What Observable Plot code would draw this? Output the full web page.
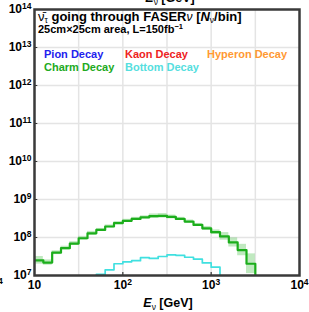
<!DOCTYPE html>
<html><head><meta charset="utf-8">
<script src="https://cdn.jsdelivr.net/npm/d3@7"></script>
<script src="https://cdn.jsdelivr.net/npm/@observablehq/plot@0.6"></script>
<style>body{margin:0;background:#fff;overflow:hidden;} svg{display:block;}</style>
</head><body><div id="chart"></div>
<script>
// Energy bin edges (GeV), 10 bins per decade
const binEdges = [10, 12.59, 15.85, 19.95, 25.12, 31.62, 39.81, 50.12, 63.10, 79.43,
  100, 125.9, 158.5, 199.5, 251.2, 316.2, 398.1, 501.2, 631.0, 794.3,
  1000, 1259, 1585, 1995, 2512, 3162];
// Charm decay: one value per bin starting at 10 GeV
const charmValues = [2.51e7, 2.19e7, 3.98e7, 5.25e7, 6.92e7, 9.55e7, 1.29e8, 1.58e8, 1.95e8, 2.40e8,
  2.75e8, 3.09e8, 3.39e8, 3.63e8, 3.72e8, 3.47e8, 3.09e8, 2.63e8, 2.14e8, 1.74e8,
  1.38e8, 1.07e8, 7.41e7, 4.68e7, 2.04e7];
// Charm uncertainty band half-width (decades)
const charmErrDex = [0.10, 0.07, 0.05, 0.05, 0.05, 0.05, 0.05, 0.04, 0.04, 0.04,
  0.04, 0.04, 0.04, 0.06, 0.06, 0.05, 0.04, 0.04, 0.04, 0.05,
  0.06, 0.10, 0.12, 0.15, 0.26];
// Bottom decay: first bin index and values
const bottomFirstBin = 7;
const bottomValues = [1.07e7, 1.41e7, 2.04e7, 2.29e7, 2.45e7, 2.95e7, 2.82e7, 3.16e7, 3.47e7, 3.39e7,
  3.02e7, 2.69e7, 2.14e7, 1.66e7];

const xDomain = [10, 1e4];
const yDomain = [1e7, 1e14];
const xTickValues = [10, 100, 1000, 10000];
const yTickValues = [1e7, 1e8, 1e9, 1e10, 1e11, 1e12, 1e13, 1e14];
const xGridValues = [31.62, 100, 316.2, 1000, 3162];
const yGridValues = [1e8, 1e9, 1e10, 1e11, 1e12, 1e13];

const legendLabels = ["Pion Decay", "Kaon Decay", "Hyperon Decay", "Charm Decay", "Bottom Decay"];
const legendColors = ["#2222ee", "#ee2222", "#ff9933", "#22aa22", "#55dede"];

const belowAxis = yDomain[0] / 10;

const charmBins = charmValues.map((v, i) => ({
  x1: binEdges[i], x2: binEdges[i + 1],
  lo: v / Math.pow(10, charmErrDex[i]), hi: v * Math.pow(10, charmErrDex[i])
}));
const charmPts = charmValues.map((v, i) => ({x: binEdges[i], y: v}))
  .concat([{x: binEdges[charmValues.length], y: belowAxis}]);
const bottomPts = [{x: binEdges[bottomFirstBin], y: belowAxis}]
  .concat(bottomValues.map((v, i) => ({x: binEdges[bottomFirstBin + i], y: v})))
  .concat([{x: binEdges[bottomFirstBin + bottomValues.length], y: belowAxis}]);

const supFmt = d => { const k = Math.round(Math.log10(d)); return k === 1 ? "10" : "10^" + k; };

const font = "'Liberation Sans', Arial, Helvetica, sans-serif";
const chart = Plot.plot({
  width: 309, height: 312,
  marginLeft: 34, marginRight: 10, marginTop: 9, marginBottom: 37,
  style: {fontFamily: font, fontWeight: "bold", fontSize: "12px", background: "#fff", color: "#000", overflow: "visible"},
  x: {type: "log", domain: xDomain},
  y: {type: "log", domain: yDomain},
  marks: [
    Plot.ruleY(yGridValues, {stroke: "#e4e4e4", strokeWidth: 1.5}),
    Plot.ruleX(xGridValues, {stroke: "#e4e4e4", strokeWidth: 1.5}),
    Plot.rect(charmBins, {x1: "x1", x2: "x2", y1: "lo", y2: "hi", fill: "#2db52d", fillOpacity: 0.3, clip: true}),
    Plot.line(charmPts, {x: "x", y: "y", curve: "step-after", stroke: "#1cae1c", strokeWidth: 2.2, clip: true}),
    Plot.line(bottomPts, {x: "x", y: "y", curve: "step-after", stroke: "#40e0e0", strokeWidth: 1.7, clip: true}),
    Plot.ruleY(yGridValues, {x1: xDomain[0], x2: xDomain[0] * 1.09, stroke: "#333", strokeWidth: 1}),
    Plot.ruleX([100, 1000], {y1: yDomain[0], y2: yDomain[0] * 1.2, stroke: "#333", strokeWidth: 1.2}),
    Plot.axisX({ticks: xTickValues, tickSize: 0, tickPadding: 5, tickFormat: supFmt, fontSize: 12, label: null}),
    Plot.axisY({ticks: yTickValues, tickSize: 0, tickPadding: 3, tickFormat: supFmt, fontSize: 12, label: null}),
    Plot.frame({stroke: "#3a3a3a", strokeWidth: 2.5})
  ]
});
document.getElementById("chart").append(chart);

// superscripts in tick labels
d3.select(chart).selectAll("text").each(function() {
  const m = /^10\^(-?\d+)$/.exec(this.textContent);
  if (m) {
    const t = d3.select(this);
    t.text("10");
    t.append("tspan").attr("font-size", 8.5).attr("dy", -4.5).text(m[1]);
  }
});

const svg = d3.select(chart);
function rich(x, y, parts, anchor = "start") {
  const t = svg.append("text").attr("x", x).attr("y", y).attr("text-anchor", anchor)
    .attr("font-family", font).attr("font-weight", "bold").attr("fill", "#000");
  parts.forEach(p => {
    const s = t.append("tspan").text(p.t);
    if (p.size) s.attr("font-size", p.size);
    if (p.dy) s.attr("dy", p.dy);
    if (p.italic) s.attr("font-style", "italic");
    if (p.normal) s.attr("font-weight", "normal");
    if (p.fill) s.attr("fill", p.fill);
  });
  return t;
}
// title
rich(38, 21, [
  {t: "\u03BD\u0304", size: 13, normal: true},
  {t: "\u03C4", size: 8.5, dy: 2, normal: true},
  {t: " going through FASER", size: 13, dy: -2},
  {t: "\u03BD", size: 12, italic: true, normal: true},
  {t: " [", size: 13},
  {t: "N", size: 13, italic: true},
  {t: "\u03BD", size: 8.5, dy: 2, normal: true},
  {t: "/bin]", size: 13, dy: -2}
]);
rich(38, 32.5, [
  {t: "25cm\u00D725cm area, L=150fb", size: 11},
  {t: "\u22121", size: 7.5, dy: -4}
]);
// legend
const legendCols = [44, 125, 207];
const legendRows = [57.5, 71];
legendLabels.forEach((lab, i) => {
  rich(legendCols[i % 3], legendRows[Math.floor(i / 3)], [{t: lab, size: 11, fill: legendColors[i]}]);
});
// x axis title
rich(168, 307, [
  {t: "E", size: 12.5, italic: true},
  {t: "\u03BD", size: 8.5, dy: 3, normal: true},
  {t: " [GeV]", size: 12.5, dy: -3}
], "middle");
// cropped neighbour fragments
rich(170, 1.5, [
  {t: "E", size: 12.5, italic: true},
  {t: "\u03BD", size: 8.5, dy: 3, normal: true},
  {t: " [GeV]", size: 12.5, dy: -3}
], "middle");
rich(-2, 284, [{t: "4", size: 8.5}]);
</script>
</body></html>
